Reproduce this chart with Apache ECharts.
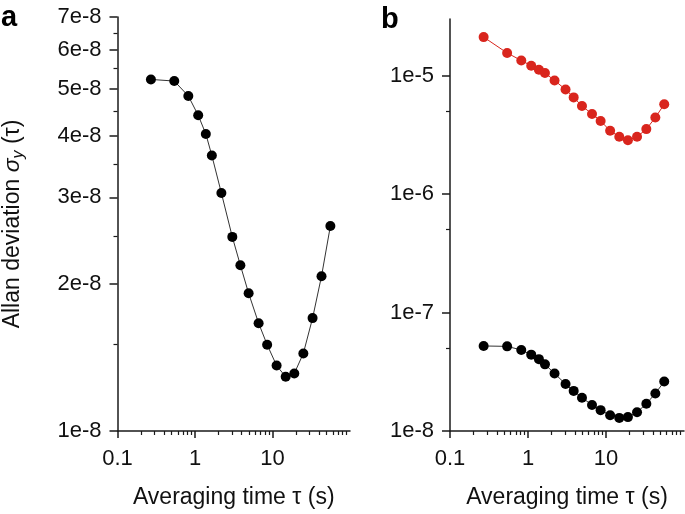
<!DOCTYPE html>
<html>
<head>
<meta charset="utf-8">
<script src="https://cdn.jsdelivr.net/npm/echarts@6/dist/echarts.min.js"></script>
<style>html,body{margin:0;padding:0;background:#fff;}#c{width:685px;height:514px;}</style>
</head>
<body>
<div id="c"></div>
<script>
// averaging times (s)
const tau = [0.27, 0.54, 0.82, 1.10, 1.38, 1.65, 2.19, 3.03, 3.85, 4.92, 6.62, 8.53, 11.3, 14.8, 19.1, 25.0, 32.9, 42.9, 55.8];
// panel a / panel b black series
const allanBlack = [5.22e-8, 5.18e-8, 4.83e-8, 4.41e-8, 4.04e-8, 3.65e-8, 3.06e-8, 2.49e-8, 2.18e-8, 1.91e-8, 1.66e-8, 1.50e-8, 1.36e-8, 1.29e-8, 1.31e-8, 1.44e-8, 1.70e-8, 2.07e-8, 2.62e-8];
// panel b red series
const allanRed = [2.11e-5, 1.55e-5, 1.34e-5, 1.21e-5, 1.12e-5, 1.05e-5, 9.08e-6, 7.63e-6, 6.54e-6, 5.53e-6, 4.74e-6, 4.14e-6, 3.42e-6, 3.04e-6, 2.84e-6, 3.04e-6, 3.53e-6, 4.42e-6, 5.72e-6];

const xTickValues = [0.1, 1, 10];
const xTickLabels = ['0.1', '1', '10'];
const xMinorTicks = [0.2,0.3,0.4,0.5,0.6,0.7,0.8,0.9,2,3,4,5,6,7,8,9,20,30,40,50,60,70,80,90];

const yTickValuesA = [1e-8, 2e-8, 3e-8, 4e-8, 5e-8, 6e-8, 7e-8];
const yTickLabelsA = ['1e-8', '2e-8', '3e-8', '4e-8', '5e-8', '6e-8', '7e-8'];
const yMinorTicksA = [1.5e-8, 2.5e-8, 3.5e-8, 4.5e-8, 5.5e-8, 6.5e-8];

const yTickValuesB = [1e-8, 1e-7, 1e-6, 1e-5];
const yTickLabelsB = ['1e-8', '1e-7', '1e-6', '1e-5'];
const yMinorTicksB = [5e-8, 5e-7, 5e-6];

const FONT = 'Liberation Sans, Arial, Helvetica, sans-serif';
const AX = '#1a1a1a';

function lab(values, labels) {
  return function (v) {
    let best = 0, bd = Infinity;
    values.forEach((t, i) => { const d = Math.abs(Math.log10(t) - Math.log10(v)); if (d < bd) { bd = d; best = i; } });
    return labels[best];
  };
}

const grids = [
  { left: 116, top: 17, width: 234, height: 416 },
  { left: 450, top: 19, width: 234, height: 415 }
];

function mainX(gi) {
  return {
    type: 'log', logBase: 10, gridIndex: gi, min: 0.1, max: 100,
    axisLine: { show: true, lineStyle: { color: AX, width: 1.5 } },
    axisTick: { show: true, inside: false, length: 7, customValues: xTickValues, lineStyle: { color: AX, width: 1.5 } },
    axisLabel: { show: true, customValues: xTickValues, formatter: lab(xTickValues, xTickLabels), fontSize: 22, color: '#111', fontFamily: FONT, margin: 17 },
    splitLine: { show: false },
    name: 'Averaging time τ (s)', nameLocation: 'middle', nameGap: 55,
    nameTextStyle: { fontSize: 23, color: '#111', fontFamily: FONT }
  };
}
function minorX(gi) {
  return {
    type: 'log', logBase: 10, gridIndex: gi, min: 0.1, max: 100, position: 'bottom', offset: 0,
    axisLine: { show: false },
    axisTick: { show: true, inside: false, length: 4, customValues: xMinorTicks, lineStyle: { color: AX, width: 1.2 } },
    axisLabel: { show: false },
    splitLine: { show: false }
  };
}
function mainY(gi, min, max, vals, labels, name) {
  const o = {
    type: 'log', logBase: 10, gridIndex: gi, min: min, max: max,
    axisLine: { show: true, lineStyle: { color: AX, width: 1.5 } },
    axisTick: { show: true, inside: false, length: 8, customValues: vals, lineStyle: { color: AX, width: 1.5 } },
    axisLabel: { show: true, customValues: vals, formatter: lab(vals, labels), fontSize: 22, color: '#111', fontFamily: FONT, margin: 16 },
    splitLine: { show: false }
  };
  if (name) {
    o.name = name; o.nameLocation = 'middle'; o.nameGap = 91;
    o.nameTextStyle = {
      fontSize: 23, color: '#111', fontFamily: FONT,
      rich: {
        n: { fontSize: 23, fontFamily: FONT, color: '#111' },
        s: { fontSize: 23, fontFamily: FONT, fontStyle: 'italic', color: '#111' },
        y: { fontSize: 16, fontFamily: FONT, fontStyle: 'italic', color: '#111', padding: [12, 0, 0, 0] }
      }
    };
  }
  return o;
}
function minorY(gi, min, max, vals) {
  return {
    type: 'log', logBase: 10, gridIndex: gi, min: min, max: max, position: 'left', offset: 0,
    axisLine: { show: false },
    axisTick: { show: true, inside: false, length: 4, customValues: vals, lineStyle: { color: AX, width: 1.2 } },
    axisLabel: { show: false },
    splitLine: { show: false }
  };
}

function pts(ys) { return tau.map((t, i) => [t, ys[i]]); }

const chart = echarts.init(document.getElementById('c'), null, { renderer: 'canvas' });
chart.setOption({
  animation: false,
  backgroundColor: '#fff',
  grid: grids,
  xAxis: [mainX(0), minorX(0), mainX(1), minorX(1)],
  yAxis: [
    mainY(0, 1e-8, 7e-8, yTickValuesA, yTickLabelsA, '{n|Allan deviation }{s|σ}{y|y}{n| (τ)}'),
    minorY(0, 1e-8, 7e-8, yMinorTicksA),
    mainY(1, 1e-8, 3e-5, yTickValuesB, yTickLabelsB, null),
    minorY(1, 1e-8, 3e-5, yMinorTicksB)
  ],
  graphic: [
    { type: 'text', left: 1, top: 3, style: { text: 'a', font: 'bold 29px ' + FONT, fill: '#000' } },
    { type: 'text', left: 381, top: 5, style: { text: 'b', font: 'bold 29px ' + FONT, fill: '#000' } }
  ],
  series: [
    { type: 'line', xAxisIndex: 0, yAxisIndex: 0, data: pts(allanBlack), symbol: 'circle', symbolSize: 10,
      itemStyle: { color: '#000' }, lineStyle: { color: '#333', width: 1 } },
    { type: 'line', xAxisIndex: 2, yAxisIndex: 2, data: pts(allanRed), symbol: 'circle', symbolSize: 10,
      itemStyle: { color: '#d9251d' }, lineStyle: { color: '#d9251d', width: 1 } },
    { type: 'line', xAxisIndex: 2, yAxisIndex: 2, data: pts(allanBlack), symbol: 'circle', symbolSize: 10,
      itemStyle: { color: '#000' }, lineStyle: { color: '#333', width: 1 } }
  ]
});
</script>
</body>
</html>
